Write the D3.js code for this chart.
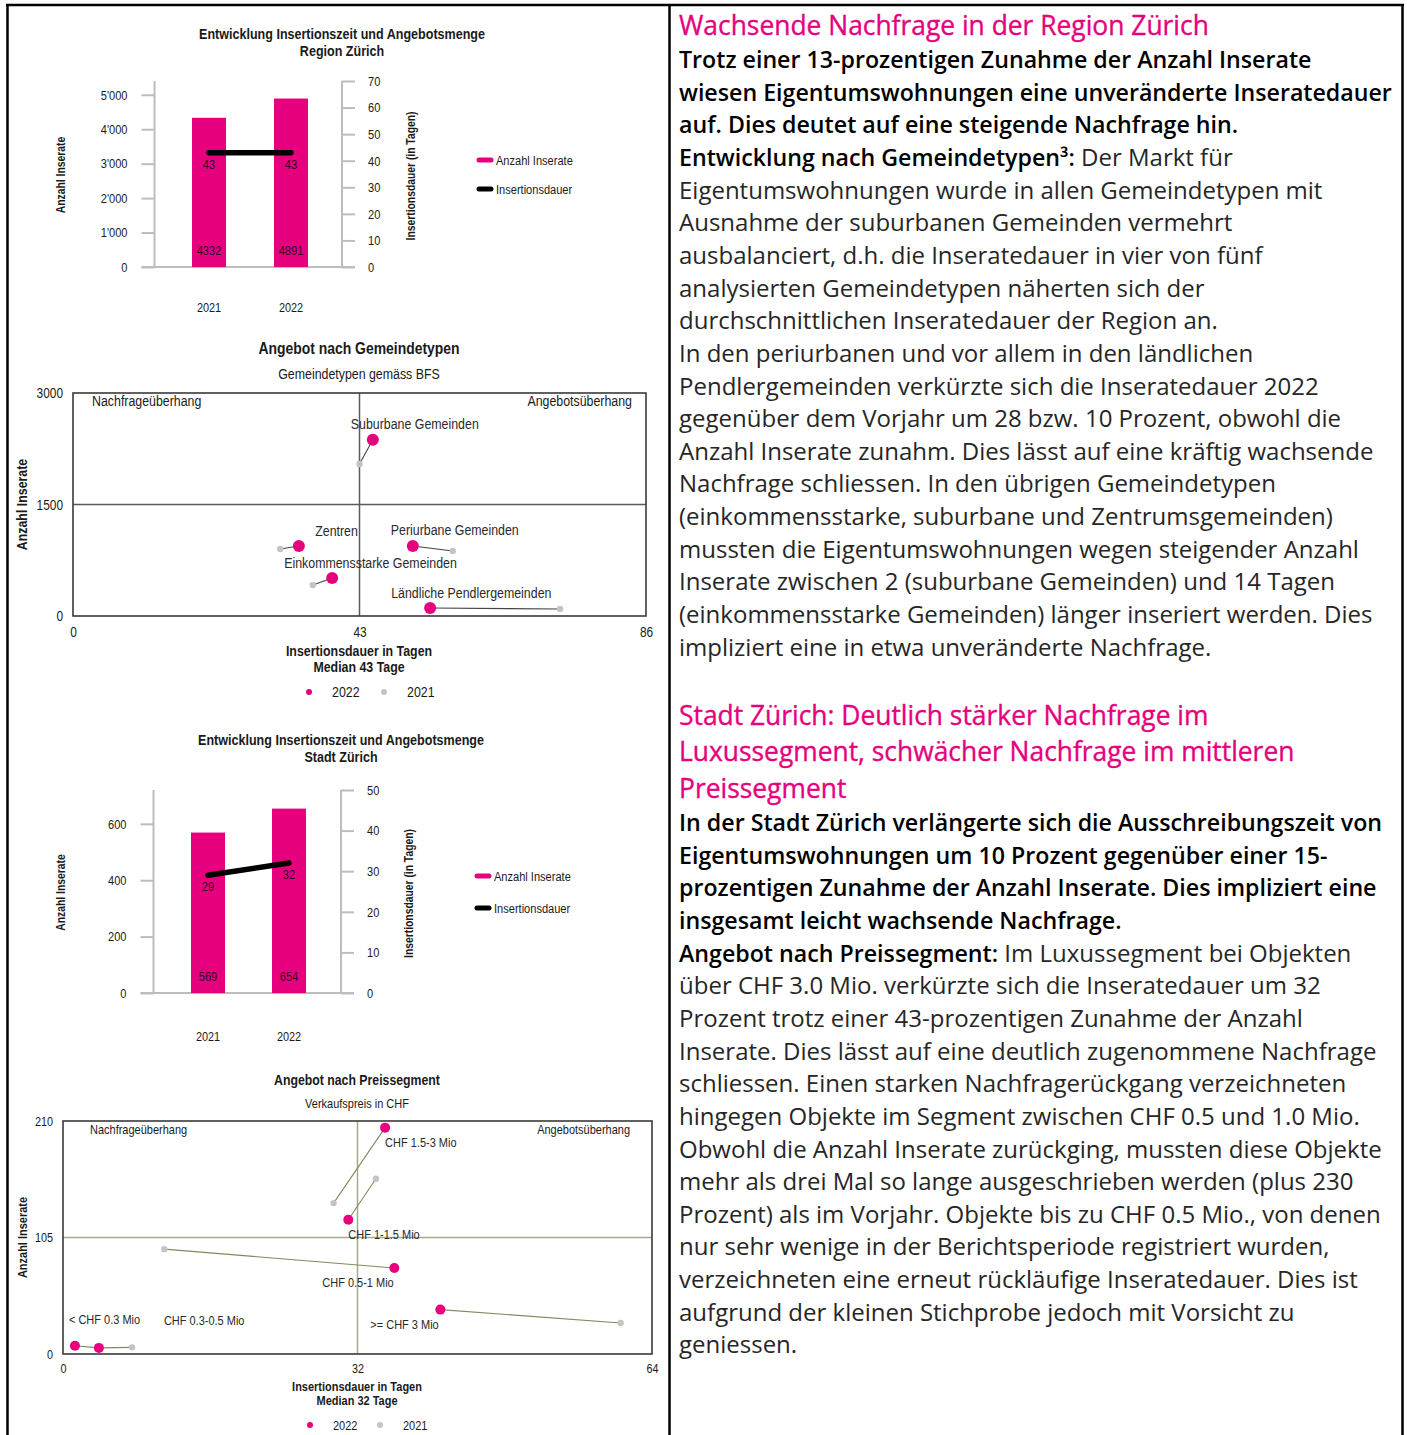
<!DOCTYPE html>
<html lang="de">
<head>
<meta charset="utf-8">
<title>Eigentumswohnungen – Nachfrage Region und Stadt Zürich</title>
<script src="https://cdn.jsdelivr.net/npm/d3@7"></script>
<style>
  html, body { margin: 0; padding: 0; background: #fff; }
  svg { display: block; }
</style>
</head>
<body>
<svg id="page" width="1407" height="1435"></svg>
<script>
// ---------- data ----------
const years = ["2021", "2022"];

const regionInserate = [4332, 4891];
const regionDauer = [43, 43];
const regionLeftTicks = [0, 1000, 2000, 3000, 4000, 5000];
const regionRightTicks = [0, 10, 20, 30, 40, 50, 60, 70];

const stadtInserate = [569, 654];
const stadtDauer = [29, 32];
const stadtLeftTicks = [0, 200, 400, 600];
const stadtRightTicks = [0, 10, 20, 30, 40, 50];

const gemeindeTypen = ["Suburbane Gemeinden", "Zentren", "Periurbane Gemeinden",
  "Einkommensstarke Gemeinden", "Ländliche Pendlergemeinden"];
const gemeindeDauer2022 = [45.0, 33.9, 51.0, 38.9, 53.6];
const gemeindeInserate2022 = [2370, 942, 942, 511, 108];
const gemeindeDauer2021 = [43.0, 31.1, 57.0, 36.0, 73.1];
const gemeindeInserate2021 = [2045, 901, 875, 417, 94];
const gemeindeXTicks = [0, 43, 86];
const gemeindeYTicks = [0, 1500, 3000];

const segmente = ["< CHF 0.3 Mio", "CHF 0.3-0.5 Mio", "CHF 0.5-1 Mio",
  "CHF 1-1.5 Mio", "CHF 1.5-3 Mio", ">= CHF 3 Mio"];
const segDauer2022 = [1.3, 3.9, 36.0, 31.0, 35.0, 41.0];
const segInserate2022 = [7.5, 5.5, 77.5, 121, 204, 40];
const segDauer2021 = [3.9, 7.5, 11.0, 34.0, 29.4, 60.6];
const segInserate2021 = [5.5, 6.0, 94.5, 158, 136, 28];
const segXTicks = [0, 32, 64];
const segYTicks = [0, 105, 210];

// label baseline placement relative to the 2022 point: [dx, dy, anchor]
const gemeindeLabelPos = [[-22, -11, "start"], [59, -10, "end"], [-22, -11, "start"],
  [-48, -10, "start"], [-39, -10, "start"]];
const segLabelPos = [[-6, -22, "start"], [65, -23, "start"], [-72, 19, "start"],
  [0, 19, "start"], [0, 19, "start"], [-70, 19, "start"]];

// text column: each line is a list of [text, bold] runs
const heading1 = ["Wachsende Nachfrage in der Region Zürich"];
const body1 = [
  [["Trotz einer 13-prozentigen Zunahme der Anzahl Inserate", true]],
  [["wiesen Eigentumswohnungen eine unveränderte Inseratedauer", true]],
  [["auf. Dies deutet auf eine steigende Nachfrage hin.", true]],
  [["Entwicklung nach Gemeindetypen³:", true], [" Der Markt für", false]],
  [["Eigentumswohnungen wurde in allen Gemeindetypen mit", false]],
  [["Ausnahme der suburbanen Gemeinden vermehrt", false]],
  [["ausbalanciert, d.h. die Inseratedauer in vier von fünf", false]],
  [["analysierten Gemeindetypen näherten sich der", false]],
  [["durchschnittlichen Inseratedauer der Region an.", false]],
  [["In den periurbanen und vor allem in den ländlichen", false]],
  [["Pendlergemeinden verkürzte sich die Inseratedauer 2022", false]],
  [["gegenüber dem Vorjahr um 28 bzw. 10 Prozent, obwohl die", false]],
  [["Anzahl Inserate zunahm. Dies lässt auf eine kräftig wachsende", false]],
  [["Nachfrage schliessen. In den übrigen Gemeindetypen", false]],
  [["(einkommensstarke, suburbane und Zentrumsgemeinden)", false]],
  [["mussten die Eigentumswohnungen wegen steigender Anzahl", false]],
  [["Inserate zwischen 2 (suburbane Gemeinden) und 14 Tagen", false]],
  [["(einkommensstarke Gemeinden) länger inseriert werden. Dies", false]],
  [["impliziert eine in etwa unveränderte Nachfrage.", false]]
];
const heading2 = ["Stadt Zürich: Deutlich stärker Nachfrage im",
  "Luxussegment, schwächer Nachfrage im mittleren", "Preissegment"];
const body2 = [
  [["In der Stadt Zürich verlängerte sich die Ausschreibungszeit von", true]],
  [["Eigentumswohnungen um 10 Prozent gegenüber einer 15-", true]],
  [["prozentigen Zunahme der Anzahl Inserate. Dies impliziert eine", true]],
  [["insgesamt leicht wachsende Nachfrage.", true]],
  [["Angebot nach Preissegment:", true], [" Im Luxussegment bei Objekten", false]],
  [["über CHF 3.0 Mio. verkürzte sich die Inseratedauer um 32", false]],
  [["Prozent trotz einer 43-prozentigen Zunahme der Anzahl", false]],
  [["Inserate. Dies lässt auf eine deutlich zugenommene Nachfrage", false]],
  [["schliessen. Einen starken Nachfragerückgang verzeichneten", false]],
  [["hingegen Objekte im Segment zwischen CHF 0.5 und 1.0 Mio.", false]],
  [["Obwohl die Anzahl Inserate zurückging, mussten diese Objekte", false]],
  [["mehr als drei Mal so lange ausgeschrieben werden (plus 230", false]],
  [["Prozent) als im Vorjahr. Objekte bis zu CHF 0.5 Mio., von denen", false]],
  [["nur sehr wenige in der Berichtsperiode registriert wurden,", false]],
  [["verzeichneten eine erneut rückläufige Inseratedauer. Dies ist", false]],
  [["aufgrund der kleinen Stichprobe jedoch mit Vorsicht zu", false]],
  [["geniessen.", false]]
];

// ---------- styles ----------
const PINK = "#e6007e";
const GREY_DOT = "#c4c4c4";
const CF = "'Liberation Sans',Arial,sans-serif";
const NARROW = 0.82;            // condensed look for chart lettering
const TF = "'Open Sans',sans-serif";
const fmtCH = d3.formatLocale({ decimal: ".", thousands: "'", grouping: [3], currency: ["CHF ", ""] }).format(",");

const svg = d3.select("#page");
const charts = svg.append("g").attr("class", "charts");

// ---------- table frame ----------
const frame = svg.append("g").attr("stroke", "#000").attr("stroke-width", 2.5);
frame.append("line").attr("x1", 6).attr("x2", 1404).attr("y1", 5).attr("y2", 5);
[7.5, 669.5, 1402.5].forEach(x =>
  frame.append("line").attr("x1", x).attr("x2", x).attr("y1", 4).attr("y2", 1435));

function txt(g, x, y, s, size, opts = {}) {
  return g.append("text").attr("x", x).attr("y", y)
    .attr("font-family", CF).attr("font-size", size)
    .attr("font-weight", opts.bold ? "bold" : "normal")
    .attr("text-anchor", opts.anchor || "start")
    .attr("fill", opts.fill || "#1a1a1a").text(s);
}
function vtxt(g, x, y, s, size) {
  return g.append("text").attr("transform", `translate(${x},${y}) rotate(-90)`)
    .attr("font-family", CF).attr("font-size", size).attr("font-weight", "bold")
    .attr("text-anchor", "middle").attr("dominant-baseline", "middle")
    .attr("fill", "#1a1a1a").text(s);
}

// ---------- bar + line combo chart ----------
function comboChart(cfg) {
  const g = charts.append("g");
  const x = d3.scalePoint().domain(years).range([cfg.cx0, cfg.cx1]);
  const yL = d3.scaleLinear().domain([0, cfg.leftMax]).range([cfg.base, cfg.top]);
  const yR = d3.scaleLinear().domain([0, cfg.rightMax]).range([cfg.base, cfg.top]);
  const axisCol = "#bdbdbd";
  const fs = 13.5;

  txt(g, cfg.titleX, cfg.titleY, cfg.title[0], 15.3, { bold: true, anchor: "middle" });
  txt(g, cfg.titleX, cfg.titleY + 17, cfg.title[1], 15.3, { bold: true, anchor: "middle" });

  // left axis
  const la = g.append("g").attr("transform", `translate(${cfg.lx},0)`)
    .call(d3.axisLeft(yL).tickValues(cfg.leftTicks).tickSize(13).tickFormat(fmtCH).tickPadding(14));
  la.select(".domain").attr("stroke", axisCol).attr("stroke-width", 2)
    .attr("d", `M0,${cfg.top}V${cfg.base}`);
  la.selectAll(".tick line").attr("stroke", axisCol).attr("stroke-width", 2);
  la.selectAll(".tick text").attr("font-family", CF).attr("font-size", fs).attr("fill", "#1a1a1a");

  // right axis
  const ra = g.append("g").attr("transform", `translate(${cfg.rx},0)`)
    .call(d3.axisRight(yR).tickValues(cfg.rightTicks).tickSize(13).tickPadding(13));
  ra.select(".domain").attr("stroke", axisCol).attr("stroke-width", 2)
    .attr("d", `M0,${cfg.top}V${cfg.base}`);
  ra.selectAll(".tick line").attr("stroke", axisCol).attr("stroke-width", 2);
  ra.selectAll(".tick text").attr("font-family", CF).attr("font-size", fs).attr("fill", "#1a1a1a");

  // baseline
  g.append("line").attr("x1", cfg.lx - 13).attr("x2", cfg.rx + 13)
    .attr("y1", cfg.base).attr("y2", cfg.base).attr("stroke", axisCol).attr("stroke-width", 2);

  // bars
  g.selectAll("rect.bar").data(cfg.inserate).join("rect").attr("class", "bar")
    .attr("x", (d, i) => x(years[i]) - 17).attr("width", 34)
    .attr("y", d => yL(d)).attr("height", d => cfg.base - yL(d)).attr("fill", PINK);
  g.selectAll("text.val").data(cfg.inserate).join("text").attr("class", "val")
    .attr("x", (d, i) => x(years[i])).attr("y", cfg.base - 12)
    .attr("text-anchor", "middle").attr("font-family", CF).attr("font-size", fs)
    .attr("fill", "#3a0020").text(d => d);

  // duration line
  const line = d3.line().x((d, i) => x(years[i])).y(d => yR(d));
  g.append("path").datum(cfg.dauer).attr("d", line).attr("fill", "none")
    .attr("stroke", "#000").attr("stroke-width", 5.5).attr("stroke-linecap", "round");
  g.selectAll("text.dur").data(cfg.dauer).join("text").attr("class", "dur")
    .attr("x", (d, i) => x(years[i])).attr("y", d => yR(d) + 16)
    .attr("text-anchor", "middle").attr("font-family", CF).attr("font-size", fs)
    .attr("fill", "#3a0020").text(d => d);

  // year labels
  years.forEach(yr => txt(g, x(yr), cfg.yearY, yr, 13.3, { anchor: "middle" }));

  // axis titles
  vtxt(g, cfg.lTitleX, (cfg.top + cfg.base) / 2 + 1, "Anzahl Inserate", 12.6);
  vtxt(g, cfg.rTitleX, (cfg.top + cfg.base) / 2 + 2, "Insertionsdauer (in Tagen)", 12.6);

  // legend
  [[PINK, "Anzahl Inserate"], ["#000", "Insertionsdauer"]].forEach((it, i) => {
    const ly = cfg.legY + i * cfg.legStep;
    g.append("line").attr("x1", cfg.legX).attr("x2", cfg.legX + 12).attr("y1", ly).attr("y2", ly)
      .attr("stroke", it[0]).attr("stroke-width", 5).attr("stroke-linecap", "round");
    txt(g, cfg.legX + 17, ly + 4.5, it[1], fs);
  });
}

comboChart({
  title: ["Entwicklung Insertionszeit und Angebotsmenge", "Region Zürich"],
  titleX: 342, titleY: 39,
  cx0: 209, cx1: 291, top: 81, base: 267, lx: 154.5, rx: 342,
  leftMax: 5400, rightMax: 70, leftTicks: regionLeftTicks, rightTicks: regionRightTicks,
  inserate: regionInserate, dauer: regionDauer,
  yearY: 312, lTitleX: 62, rTitleX: 412, legX: 479, legY: 160, legStep: 29
});

comboChart({
  title: ["Entwicklung Insertionszeit und Angebotsmenge", "Stadt Zürich"],
  titleX: 341, titleY: 745,
  cx0: 208, cx1: 289, top: 790, base: 993, lx: 153.5, rx: 341,
  leftMax: 720, rightMax: 50, leftTicks: stadtLeftTicks, rightTicks: stadtRightTicks,
  inserate: stadtInserate, dauer: stadtDauer,
  yearY: 1041, lTitleX: 62, rTitleX: 410, legX: 477, legY: 876, legStep: 32
});

// ---------- quadrant scatter ----------
function quadChart(cfg) {
  const g = charts.append("g");
  const x = d3.scaleLinear().domain([0, cfg.xMax]).range([cfg.x0, cfg.x1]);
  const y = d3.scaleLinear().domain([0, cfg.yMax]).range([cfg.y0, cfg.y1]);
  const fs = cfg.fs;

  txt(g, cfg.cx, cfg.titleY, cfg.title, cfg.titleSize, { bold: true, anchor: "middle" });
  txt(g, cfg.cx, cfg.titleY + cfg.subGap, cfg.subtitle, fs, { anchor: "middle" });

  // quadrant guides at the medians
  g.append("line").attr("x1", x(cfg.xMax / 2)).attr("x2", x(cfg.xMax / 2))
    .attr("y1", y(cfg.yMax)).attr("y2", y(0)).attr("stroke", cfg.guide).attr("stroke-width", 1.5);
  g.append("line").attr("x1", x(0)).attr("x2", x(cfg.xMax))
    .attr("y1", y(cfg.yMax / 2)).attr("y2", y(cfg.yMax / 2)).attr("stroke", cfg.guide).attr("stroke-width", 1.5);
  g.append("rect").attr("x", x(0)).attr("y", y(cfg.yMax))
    .attr("width", x(cfg.xMax) - x(0)).attr("height", y(0) - y(cfg.yMax))
    .attr("fill", "none").attr("stroke", "#3a3a3a").attr("stroke-width", 1.6);

  // tick labels
  const xa = g.append("g").attr("transform", `translate(0,${cfg.y0})`)
    .call(d3.axisBottom(x).tickValues(cfg.xTicks).tickSize(0).tickPadding(cfg.xPad).tickFormat(d3.format("d")));
  xa.select(".domain").remove();
  xa.selectAll("text").attr("font-family", CF).attr("font-size", cfg.tickSize).attr("fill", "#1a1a1a");
  const ya = g.append("g").attr("transform", `translate(${cfg.x0},0)`)
    .call(d3.axisLeft(y).tickValues(cfg.yTicks).tickSize(0).tickPadding(cfg.yPad).tickFormat(d3.format("d")));
  ya.select(".domain").remove();
  ya.selectAll("text").attr("font-family", CF).attr("font-size", cfg.tickSize).attr("fill", "#1a1a1a");

  // quadrant captions
  txt(g, cfg.x0 + cfg.capInset, y(cfg.yMax) + 13, "Nachfrageüberhang", fs);
  txt(g, cfg.x1 - cfg.capInset + 5, y(cfg.yMax) + 13, "Angebotsüberhang", fs, { anchor: "end" });

  // connectors, 2021 points, 2022 points
  cfg.names.forEach((n, i) => {
    g.append("line").attr("x1", x(cfg.d21[i])).attr("y1", y(cfg.n21[i]))
      .attr("x2", x(cfg.d22[i])).attr("y2", y(cfg.n22[i]))
      .attr("stroke", cfg.conn).attr("stroke-width", 1.1);
  });
  g.selectAll("circle.p21").data(cfg.names).join("circle").attr("class", "p21")
    .attr("cx", (d, i) => x(cfg.d21[i])).attr("cy", (d, i) => y(cfg.n21[i]))
    .attr("r", 3.2).attr("fill", GREY_DOT);
  g.selectAll("circle.p22").data(cfg.names).join("circle").attr("class", "p22")
    .attr("cx", (d, i) => x(cfg.d22[i])).attr("cy", (d, i) => y(cfg.n22[i]))
    .attr("r", cfg.r22).attr("fill", PINK);
  cfg.names.forEach((n, i) => {
    const p = cfg.labelPos[i];
    txt(g, x(cfg.d22[i]) + p[0], y(cfg.n22[i]) + p[1], n, fs, { anchor: p[2], fill: "#2a2a2a" });
  });

  // axis titles
  txt(g, cfg.cx, cfg.axTitleY, "Insertionsdauer in Tagen", fs, { bold: true, anchor: "middle" });
  txt(g, cfg.cx, cfg.axTitleY + cfg.axGap, cfg.median, fs, { bold: true, anchor: "middle" });
  vtxt(g, 23, (cfg.y0 + cfg.y1) / 2, "Anzahl Inserate", fs);

  // legend
  g.append("circle").attr("cx", cfg.legX).attr("cy", cfg.legY).attr("r", 3).attr("fill", PINK);
  txt(g, cfg.legX + 23, cfg.legY + 5, "2022", fs);
  g.append("circle").attr("cx", cfg.legX + cfg.legStep).attr("cy", cfg.legY).attr("r", 3).attr("fill", GREY_DOT);
  txt(g, cfg.legX + cfg.legStep + 23, cfg.legY + 5, "2021", fs);
}

quadChart({
  title: "Angebot nach Gemeindetypen", subtitle: "Gemeindetypen gemäss BFS",
  cx: 359, titleY: 354, subGap: 25, fs: 15.1, titleSize: 17, tickSize: 14.5,
  x0: 73, x1: 646, y0: 616, y1: 393, xMax: 86, yMax: 3000,
  xTicks: gemeindeXTicks, yTicks: gemeindeYTicks, xPad: 11, yPad: 10,
  guide: "#5a5a5a", conn: "#444", capInset: 19, r22: 6,
  names: gemeindeTypen, labelPos: gemeindeLabelPos,
  d22: gemeindeDauer2022, n22: gemeindeInserate2022,
  d21: gemeindeDauer2021, n21: gemeindeInserate2021,
  axTitleY: 656, axGap: 16, median: "Median 43 Tage",
  legX: 309, legY: 692, legStep: 75
});

quadChart({
  title: "Angebot nach Preissegment", subtitle: "Verkaufspreis in CHF",
  cx: 357, titleY: 1085, subGap: 23, fs: 13.4, titleSize: 15, tickSize: 13.2,
  x0: 63, x1: 652, y0: 1354, y1: 1121, xMax: 64, yMax: 210,
  xTicks: segXTicks, yTicks: segYTicks, xPad: 10, yPad: 10,
  guide: "#a3ac88", conn: "#7d8b5c", capInset: 27, r22: 5,
  names: segmente, labelPos: segLabelPos,
  d22: segDauer2022, n22: segInserate2022,
  d21: segDauer2021, n21: segInserate2021,
  axTitleY: 1391, axGap: 14, median: "Median 32 Tage",
  legX: 310, legY: 1425, legStep: 70
});

// condense all chart lettering horizontally around its own anchor point
charts.selectAll("text").each(function () {
  const t = d3.select(this);
  const x = +t.attr("x") || 0, y = +t.attr("y") || 0;
  const prev = t.attr("transform");
  t.attr("transform", (prev ? prev + " " : "") + `translate(${x},${y}) scale(${NARROW},1)`)
    .attr("x", 0).attr("y", 0);
});

// ---------- text column ----------
const col = svg.append("g");
const TX = 679;
function bodyLines(lines, y0, step) {
  lines.forEach((runs, i) => {
    const t = col.append("text").attr("x", TX).attr("y", y0 + i * step)
      .attr("font-family", TF).attr("fill", "#1a1a1a");
    runs.forEach(r => t.append("tspan")
      .attr("font-weight", r[1] ? 600 : 400)
      .attr("font-size", r[1] ? 23.2 : 24)
      .attr("fill", r[1] ? "#000" : "#262626").text(r[0]));
  });
}
function headLines(lines, y0, step) {
  lines.forEach((s, i) => col.append("text").attr("x", TX).attr("y", y0 + i * step)
    .attr("font-family", TF).attr("font-size", 26.4).attr("font-weight", 500)
    .attr("fill", PINK).attr("stroke", PINK).attr("stroke-width", 0.35).text(s));
}
headLines(heading1, 35, 36.3);
bodyLines(body1, 68, 32.65);
headLines(heading2, 725, 36.3);
bodyLines(body2, 831, 32.65);
</script>
</body>
</html>
